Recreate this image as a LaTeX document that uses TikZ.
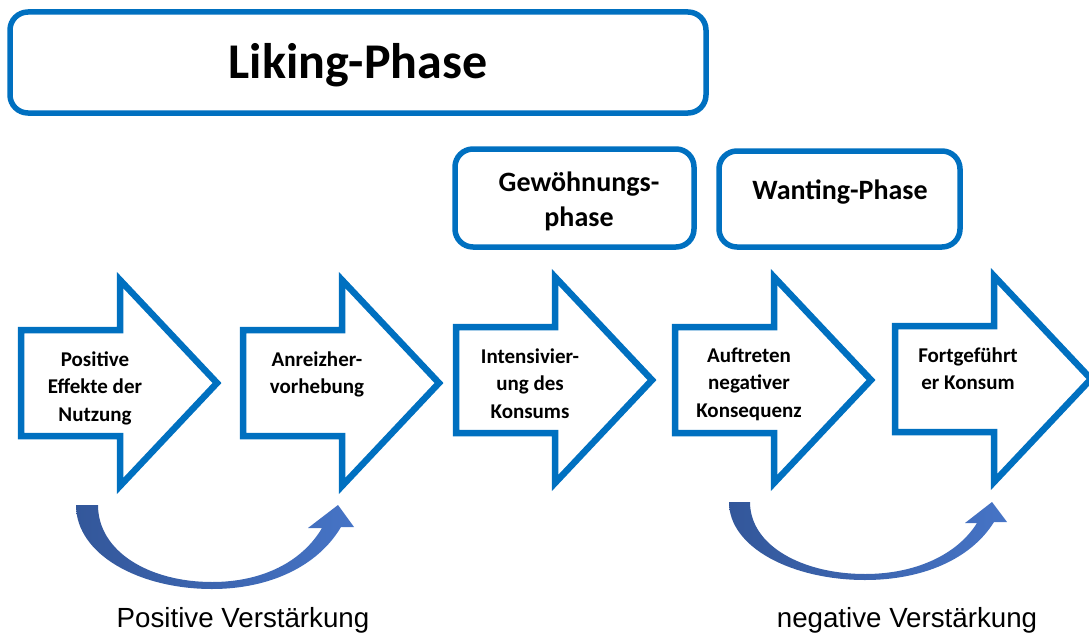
\documentclass[tikz,border=0pt]{standalone}
\usepackage{fontspec}
\setmainfont{Carlito}
\newfontfamily\arialfont{Liberation Sans}
\definecolor{ublue}{HTML}{0070C0}
\definecolor{cdark}{HTML}{33579A}
\definecolor{clight}{HTML}{4674C6}
\newcommand\blockarr[2]{%
  \draw[blockarrow] (#1,#2) ++(0,-53) -- ++(99,0) -- ++(0,-50) -- ++(97,103)
    -- ++(-97,103) -- ++(0,-50) -- ++(-99,0) -- cycle;}
\begin{document}
\begin{tikzpicture}[x=1pt,y=-1pt,
  phasebox/.style={draw=ublue, line width=5.5pt, rounded corners=18pt, fill=white, inner sep=0pt},
  blockarrow/.style={draw=ublue, line width=6.5pt, fill=white, line join=miter, miter limit=10},
  arrowtext/.style={font=\fontsize{21}{27.5}\selectfont\bfseries, align=center, anchor=base, inner sep=0pt},
  headtext/.style={font=\fontsize{28}{35}\selectfont\bfseries, align=center, anchor=base, inner sep=0pt},
  titletext/.style={font=\fontsize{50}{60}\selectfont\bfseries, anchor=base, inner sep=0pt},
  reinftext/.style={font=\arialfont\fontsize{27.7}{33}\selectfont, anchor=base, inner sep=0pt},
  curvefill/.style={left color=cdark, right color=clight, draw=none}
]
\useasboundingbox (0,0) rectangle (1089,634);

% phase boxes
\node[phasebox, minimum width=696pt, minimum height=101pt] (liking) at (358,62.5) {};
\node[titletext] (likingtxt) at (358,78) {Liking-Phase};
\node[phasebox, minimum width=239pt, minimum height=98pt] (gew) at (574.5,198) {};
\node[headtext] (gewtxt) at (579,226) {Gewöhnungs-\\phase};
\node[phasebox, minimum width=241pt, minimum height=96pt] (want) at (839.5,199) {};
\node[headtext] (wanttxt) at (840,199) {Wanting-Phase};

% block arrows
\blockarr{21}{383}
\blockarr{243}{383}
\blockarr{456}{380}
\blockarr{675}{380}
\blockarr{895}{379}

% multi-line nodes: base anchor = baseline of last line
\node[arrowtext] (t1) at (95,421) {Positive\\Effekte der\\Nutzung};
\node[arrowtext] (t2) at (317,393.5) {Anreizher-\\vorhebung};
\node[arrowtext] (t3) at (530,418) {Intensivier-\\ung des\\Konsums};
\node[arrowtext] (t4) at (749,417) {Auftreten\\negativer\\Konsequenz};
\node[arrowtext] (t5) at (968,389.5) {Fortgeführt\\er Konsum};

% curved arrows
\shade[curvefill] (76,505) .. controls (76,555) and (140,589) .. (212,589)
  .. controls (270,589) and (318,566) .. (341,527) -- (354,527) -- (338,505)
  -- (308,528) -- (322,528) .. controls (302,562) and (262,582) .. (212,582)
  .. controls (150,582) and (98,552) .. (98,505) -- cycle;
\shade[curvefill] (729,502) .. controls (729,548) and (793,580) .. (865,580)
  .. controls (923,580) and (971,559) .. (994,522) -- (1007,522) -- (992,502)
  -- (965,523) -- (977,523) .. controls (957,555) and (915,574) .. (865,574)
  .. controls (803,574) and (750,546) .. (750,502) -- cycle;

\node[reinftext] (pos) at (243,627) {Positive Verstärkung};
\node[reinftext] (neg) at (907,627) {negative Verstärkung};
\end{tikzpicture}
\end{document}
